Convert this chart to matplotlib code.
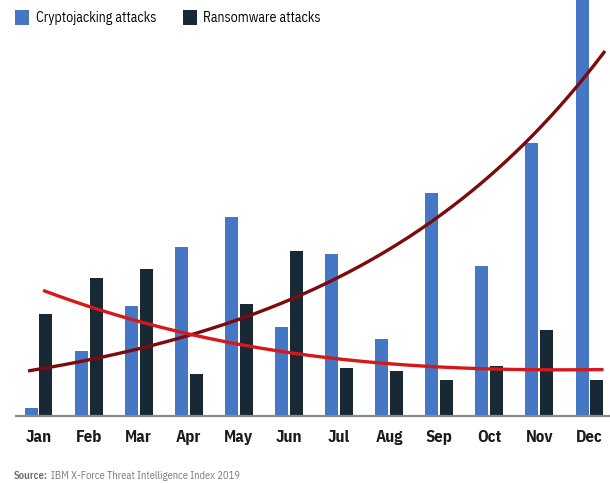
import matplotlib
matplotlib.use("Agg")
import matplotlib.pyplot as plt
import numpy as np

plt.rcParams['font.family'] = ['IBM Plex Sans Condensed', 'DejaVu Sans']

months = ["Jan", "Feb", "Mar", "Apr", "May", "Jun",
          "Jul", "Aug", "Sep", "Oct", "Nov", "Dec"]
cryptojacking = [8, 65, 110, 169, 199, 89, 162, 77, 223, 150, 273, 430]
ransomware = [102, 138, 147, 42, 112, 165, 48, 45, 36, 50, 86, 36]

# trend line readings (month index, height)
crypto_trend_x = [-0.21, 2.03, 3.17, 4.23, 5.23, 5.82, 7.88, 9.56, 10.81, 11.31]
crypto_trend_y = [46, 64, 80, 101, 122, 139, 203, 266, 326, 359]
ransom_trend_x = [0.09, 1.24, 3.17, 5.43, 5.82, 6.88, 7.88, 8.88, 10.22, 11.28]
ransom_trend_y = [125, 106, 80, 59, 58, 53, 49, 47, 46, 46]

blue = "#4577c4"
navy = "#182835"

fig = plt.figure(figsize=(6.10, 4.83), dpi=100)
ax = fig.add_axes([16 / 610, 1 - 415.7 / 483, 594 / 610, 415.7 / 483])

x = np.arange(len(months))
w = 0.26
ax.bar(x - 0.148, cryptojacking, w, color=blue, label="Cryptojacking attacks", zorder=2)
ax.bar(x + 0.148, ransomware, w, color=navy, label="Ransomware attacks", zorder=2)

# exponential trend for cryptojacking
z1 = np.polyfit(crypto_trend_x, np.log(crypto_trend_y), 1)
t1 = np.linspace(crypto_trend_x[0], crypto_trend_x[-1], 200)
ax.plot(t1, np.exp(np.polyval(z1, t1)), color="#7d0a0c", lw=2.4, zorder=3,
        solid_capstyle="butt")

# polynomial trend for ransomware
z2 = np.polyfit(ransom_trend_x, ransom_trend_y, 3)
t2 = np.linspace(ransom_trend_x[0], ransom_trend_x[-1], 200)
ax.plot(t2, np.polyval(z2, t2), color="#d8171b", lw=2.4, zorder=3,
        solid_capstyle="butt")

ax.set_xlim(-0.45, 11.41)
ax.set_ylim(0, 415.7)
ax.set_xticks(x)
ax.set_xticklabels(months, fontsize=12, fontweight="bold", color="#1b1b1b")
ax.tick_params(axis="x", length=0, pad=10)
ax.set_yticks([])
for s in ["top", "right", "left"]:
    ax.spines[s].set_visible(False)
ax.spines["bottom"].set_color("#8a8a8a")
ax.spines["bottom"].set_linewidth(1.6)

ax.legend(loc="upper left", ncol=2, frameon=False, fontsize=10,
          bbox_to_anchor=(-0.011, 0.99), handlelength=1.0, handleheight=1.3,
          handletextpad=0.5, columnspacing=1.9, borderaxespad=0.0)

src = fig.text(14 / 610, 1 - 476 / 483, "Source:", fontsize=7.6, color="#6a6a6a",
               fontweight="semibold", va="center")
ax.annotate("IBM X-Force Threat Intelligence Index 2019", xy=(1, 0.5),
            xycoords=src, xytext=(2.5, 0), textcoords="offset points",
            fontsize=7.6, color="#7a7a7a", va="center", annotation_clip=False)

fig.savefig("out.png", dpi=100)
